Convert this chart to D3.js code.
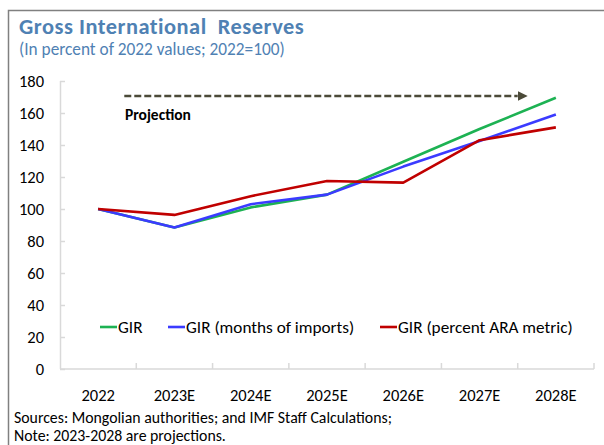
<!DOCTYPE html>
<html>
<head>
<meta charset="utf-8">
<script src="https://cdn.jsdelivr.net/npm/d3@7"></script>
<style>
  body { margin: 0; background: #fff; }
  svg { display: block; font-family: Carlito, Lato, "Open Sans", sans-serif; }
</style>
</head>
<body>
<div id="chart"></div>
<script>
var years = ['2022', '2023E', '2024E', '2025E', '2026E', '2027E', '2028E'];
var girValues = [100, 88.5, 101, 109, 129.5, 150, 169.5];
var monthsValues = [100, 88.5, 103, 109, 126.5, 142.5, 159];
var araValues = [100, 96.3, 108, 117.5, 116.5, 143, 151];
var yTicks = [0, 20, 40, 60, 80, 100, 120, 140, 160, 180];

var seriesNames = ['GIR', 'GIR (months of imports)', 'GIR (percent ARA metric)'];
var seriesColors = ['#1db253', '#3b3bff', '#c00000'];

const width = 604;
const height = 445;
const margin = { left: 60, right: 10, top: 81, bottom: 76 };

const svg = d3.select('#chart').append('svg')
    .attr('width', width)
    .attr('height', height);

// outer frame (top and left edges only visible)
svg.append('path')
    .attr('d', 'M8.5,' + height + 'V10.5H' + width)
    .attr('fill', 'none')
    .attr('stroke', '#808080')
    .attr('stroke-width', 1.5);

svg.append('text')
    .attr('x', 19).attr('y', 34)
    .attr('font-size', 22.4).attr('font-weight', 'bold')
    .attr('letter-spacing', 0.5)
    .attr('fill', '#4f81b3')
    .style('white-space', 'pre')
    .text('Gross International  Reserves');

svg.append('text')
    .attr('x', 19).attr('y', 55)
    .attr('font-size', 17.3)
    .attr('fill', '#4f81b3')
    .text('(In percent of 2022 values; 2022=100)');

const x = d3.scaleBand()
    .domain(years)
    .range([margin.left, width - margin.right])
    .padding(0);

const y = d3.scaleLinear()
    .domain([0, 180])
    .range([height - margin.bottom, margin.top]);

const axisColor = '#d9d9d9';

// y axis
const yAxis = svg.append('g')
    .attr('transform', `translate(${margin.left},0)`)
    .call(d3.axisRight(y).tickValues(yTicks).tickSize(5).tickFormat(''));
yAxis.selectAll('line, path').attr('stroke', axisColor).attr('stroke-width', 1.5);
yAxis.select('.domain').attr('d', `M0.5,${y(0)}V${y(180)}`);

svg.append('g').selectAll('text')
    .data(yTicks)
    .enter().append('text')
    .attr('x', 44)
    .attr('y', d => y(d) + 6)
    .attr('text-anchor', 'end')
    .attr('font-size', 16.5)
    .attr('fill', '#000')
    .text(d => d);

// x axis with ticks at category boundaries
const xg = svg.append('g');
xg.append('line')
    .attr('x1', margin.left).attr('x2', width - margin.right)
    .attr('y1', y(0)).attr('y2', y(0))
    .attr('stroke', axisColor).attr('stroke-width', 1.5);
xg.selectAll('.xtick')
    .data(years.slice(1).concat(['end']))
    .enter().append('line')
    .attr('x1', d => d === 'end' ? width - margin.right : x(d))
    .attr('x2', d => d === 'end' ? width - margin.right : x(d))
    .attr('y1', y(0)).attr('y2', y(0) - 6)
    .attr('stroke', axisColor).attr('stroke-width', 1.5);
xg.selectAll('.xlabel')
    .data(years)
    .enter().append('text')
    .attr('x', d => x(d) + x.bandwidth() / 2)
    .attr('y', y(0) + 32)
    .attr('text-anchor', 'middle')
    .attr('font-size', 16.5)
    .attr('fill', '#000')
    .text(d => d);

// projection arrow
svg.append('defs').append('marker')
    .attr('id', 'arrow')
    .attr('viewBox', '0 0 10 10')
    .attr('refX', 0).attr('refY', 5)
    .attr('markerWidth', 4).attr('markerHeight', 4)
    .attr('orient', 'auto')
    .append('path')
    .attr('d', 'M0,0L10,5L0,10Z')
    .attr('fill', '#4b4a38');

svg.append('line')
    .attr('x1', x('2023E') - 12).attr('x2', x('2028E'))
    .attr('y1', 96).attr('y2', 96)
    .attr('stroke', '#4b4a38')
    .attr('stroke-width', 2.5)
    .attr('stroke-dasharray', '7,3')
    .attr('marker-end', 'url(#arrow)');

svg.append('text')
    .attr('x', 125).attr('y', 120)
    .attr('font-size', 15.5).attr('font-weight', 'bold')
    .attr('fill', '#000')
    .text('Projection');

// lines
const line = d3.line()
    .x((d, i) => x(years[i]) + x.bandwidth() / 2)
    .y(d => y(d));

[girValues, monthsValues, araValues].forEach(function (vals, i) {
    svg.append('path')
        .datum(vals)
        .attr('d', line)
        .attr('fill', 'none')
        .attr('stroke', seriesColors[i])
        .attr('stroke-width', 2.6)
        .attr('stroke-linejoin', 'round');
});

// legend
var legendX = [100, 168, 380];
seriesNames.forEach(function (name, i) {
    svg.append('line')
        .attr('x1', legendX[i]).attr('x2', legendX[i] + 17)
        .attr('y1', 327).attr('y2', 327)
        .attr('stroke', seriesColors[i])
        .attr('stroke-width', 2.6);
    svg.append('text')
        .attr('x', legendX[i] + 18).attr('y', 333)
        .attr('font-size', 17.2)
        .attr('fill', '#000')
        .text(name);
});

svg.append('text')
    .attr('x', 14).attr('y', 423)
    .attr('font-size', 15.8)
    .attr('fill', '#000')
    .text('Sources: Mongolian authorities; and IMF Staff Calculations;');

svg.append('text')
    .attr('x', 14).attr('y', 441)
    .attr('font-size', 15.8)
    .attr('fill', '#000')
    .text('Note: 2023-2028 are projections.');
</script>
</body>
</html>
